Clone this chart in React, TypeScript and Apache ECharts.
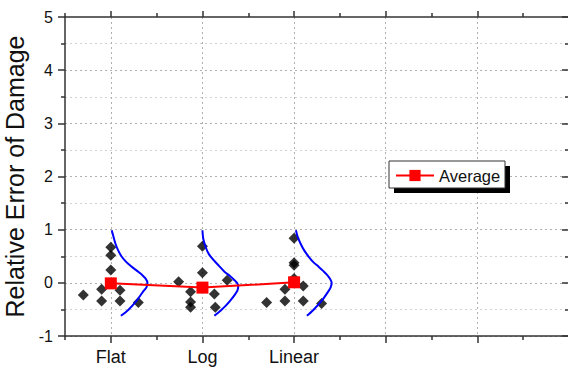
import React, { useEffect, useRef } from 'react';
import * as echarts from 'echarts';

// ---- data ----
const categories = ['Flat', 'Log', 'Linear'];
const categoryPositions = [1, 2, 3];
const majorXTicks = [1, 2, 3, 4, 5];
const minorXTicks = [0.5, 1.5, 2.5, 3.5, 4.5, 5.5];
const averageValues = [-0.01, -0.09, 0.01];

const flatX = [1.0, 1.0, 1.0, 0.9, 1.1, 0.7, 0.9, 1.1, 1.3];
const flatY = [0.67, 0.52, 0.24, -0.12, -0.14, -0.23, -0.34, -0.34, -0.37];
const logX = [2.0, 2.0, 1.74, 2.27, 1.87, 2.13, 1.87, 1.87, 2.14];
const logY = [0.69, 0.19, 0.02, 0.05, -0.17, -0.21, -0.36, -0.46, -0.46];
const linearX = [3.0, 3.0, 3.0, 3.0, 2.9, 3.1, 2.7, 2.9, 3.1, 3.3];
const linearY = [0.84, 0.38, 0.33, 0.08, -0.12, -0.06, -0.37, -0.34, -0.34, -0.39];

const flatCurveX = [1.01, 1.03, 1.05, 1.08, 1.12, 1.17, 1.23, 1.29, 1.34, 1.38, 1.4, 1.39, 1.35, 1.28, 1.19, 1.11];
const flatCurveY = [0.99, 0.86, 0.74, 0.61, 0.49, 0.39, 0.3, 0.22, 0.15, 0.08, 0.0, -0.08, -0.17, -0.34, -0.51, -0.62];
const logCurveX = [2.0, 2.01, 2.04, 2.07, 2.12, 2.18, 2.24, 2.3, 2.35, 2.38, 2.39, 2.38, 2.35, 2.31, 2.26, 2.2, 2.13];
const logCurveY = [0.99, 0.82, 0.65, 0.54, 0.43, 0.32, 0.21, 0.13, 0.05, -0.01, -0.07, -0.15, -0.23, -0.32, -0.42, -0.52, -0.62];
const linearCurveX = [3.02, 3.04, 3.07, 3.11, 3.16, 3.21, 3.27, 3.32, 3.36, 3.39, 3.41, 3.4, 3.37, 3.3, 3.21, 3.14];
const linearCurveY = [0.99, 0.86, 0.74, 0.61, 0.49, 0.39, 0.3, 0.22, 0.15, 0.08, 0.0, -0.08, -0.17, -0.34, -0.51, -0.62];

const FONT = "'Liberation Sans', Arial, sans-serif";
const AXIS_COLOR = '#333';

const zip = (xs: number[], ys: number[]) => xs.map((x, i) => [x, ys[i]]);

export default function App() {
  const ref = useRef<HTMLDivElement>(null);

  useEffect(() => {
    if (!ref.current) return;
    const chart = echarts.init(ref.current, undefined, { renderer: 'svg' });

    const axisLineStyle = { color: AXIS_COLOR, width: 1.5 };
    const xBase = { type: 'value', min: 0.5, max: 6, gridIndex: 0 };

    const option: any = {
      animation: false,
      backgroundColor: '#fff',
      grid: {
        left: 65,
        top: 17,
        width: 504,
        height: 319,
        containLabel: false,
        outerBoundsMode: 'none',
      },
      xAxis: [
        {
          ...xBase,
          position: 'bottom',
          axisLine: { show: true, onZero: false, lineStyle: axisLineStyle },
          axisTick: { show: true, length: 7, customValues: majorXTicks, lineStyle: axisLineStyle },
          axisLabel: {
            show: true,
            customValues: categoryPositions,
            margin: 12,
            fontSize: 18,
            fontFamily: FONT,
            color: '#111',
            formatter: (v: number) => {
              const i = categoryPositions.indexOf(v);
              return i >= 0 ? categories[i] : '';
            },
          },
          splitLine: { show: true, lineStyle: { color: '#b0b0b0', type: [2, 3], width: 1 } },
        },
        {
          ...xBase,
          position: 'bottom',
          axisLine: { show: false, onZero: false },
          axisTick: { show: true, length: 4, customValues: minorXTicks, lineStyle: axisLineStyle },
          axisLabel: { show: false },
          splitLine: { show: false },
        },
        {
          ...xBase,
          position: 'top',
          axisLine: { show: true, onZero: false, lineStyle: axisLineStyle },
          axisTick: { show: true, length: 6, customValues: majorXTicks, lineStyle: axisLineStyle },
          axisLabel: { show: false },
          splitLine: { show: false },
        },
        {
          ...xBase,
          position: 'top',
          axisLine: { show: false, onZero: false },
          axisTick: { show: true, length: 4, customValues: minorXTicks, lineStyle: axisLineStyle },
          axisLabel: { show: false },
          splitLine: { show: false },
        },
      ],
      yAxis: [
        {
          type: 'value',
          position: 'left',
          min: -1,
          max: 5,
          interval: 1,
          name: 'Relative Error of Damage',
          nameLocation: 'middle',
          nameGap: 29,
          nameTextStyle: { fontSize: 25, fontFamily: FONT, color: '#111' },
          axisLine: { show: true, onZero: false, lineStyle: axisLineStyle },
          axisTick: { show: true, length: 7, lineStyle: axisLineStyle },
          minorTick: { show: true, splitNumber: 2, length: 4, lineStyle: axisLineStyle },
          axisLabel: { fontSize: 16, fontFamily: FONT, color: '#111', margin: 12 },
          splitLine: {
            show: true,
            showMaxLine: false,
            lineStyle: { color: '#b0b0b0', type: [2, 3], width: 1 },
          },
          minorSplitLine: { show: true, lineStyle: { color: '#d2d2d2', type: [2, 3], width: 1 } },
        },
        {
          type: 'value',
          position: 'right',
          min: -1,
          max: 5,
          interval: 1,
          axisLine: { show: true, onZero: false, lineStyle: axisLineStyle },
          axisTick: { show: true, inside: true, length: 7, lineStyle: axisLineStyle },
          minorTick: { show: true, splitNumber: 2, length: 4, lineStyle: axisLineStyle },
          axisLabel: { show: false },
          splitLine: { show: false },
        },
      ],
      legend: {
        show: true,
        data: ['Average'],
        left: 395,
        top: 167,
        padding: 0,
        itemWidth: 38,
        itemHeight: 14,
        z: 10,
        textStyle: { fontSize: 16.5, fontFamily: FONT, color: '#111' },
      },
      graphic: [
        {
          type: 'rect',
          z: 8,
          shape: { x: 394, y: 166, width: 116, height: 27 },
          style: { fill: '#000' },
        },
        {
          type: 'rect',
          z: 9,
          shape: { x: 389, y: 161, width: 116, height: 27 },
          style: { fill: '#fff', stroke: '#333', lineWidth: 1 },
        },
      ],
      series: [
        {
          type: 'scatter',
          name: 'Flat points',
          symbol: 'diamond',
          symbolSize: 11,
          itemStyle: { color: '#000' },
          data: zip(flatX, flatY),
          z: 2,
        },
        {
          type: 'scatter',
          name: 'Log points',
          symbol: 'diamond',
          symbolSize: 11,
          itemStyle: { color: '#000' },
          data: zip(logX, logY),
          z: 2,
        },
        {
          type: 'scatter',
          name: 'Linear points',
          symbol: 'diamond',
          symbolSize: 11,
          itemStyle: { color: '#000' },
          data: zip(linearX, linearY),
          z: 2,
        },
        ...[
          zip(flatCurveX, flatCurveY),
          zip(logCurveX, logCurveY),
          zip(linearCurveX, linearCurveY),
        ].map((d, i) => ({
          type: 'line',
          name: 'Distribution ' + categories[i],
          data: d,
          smooth: 0.3,
          showSymbol: false,
          symbol: 'none',
          lineStyle: { color: '#0000ff', width: 2 },
          z: 3,
        })),
        {
          type: 'line',
          name: 'Average',
          data: zip(categoryPositions, averageValues),
          symbol: 'rect',
          symbolSize: 12,
          itemStyle: { color: '#ff0000' },
          lineStyle: { color: '#ff0000', width: 2 },
          z: 4,
        },
      ],
    };

    chart.setOption(option);
    return () => chart.dispose();
  }, []);

  return (
    <div
      ref={ref}
      style={{ position: 'fixed', left: 0, top: 0, width: 568, height: 368, background: '#fff' }}
    />
  );
}
